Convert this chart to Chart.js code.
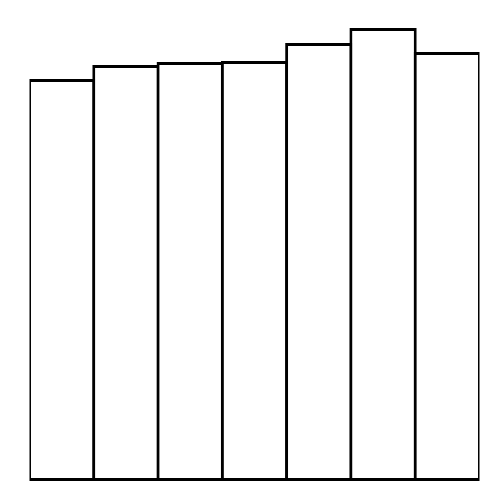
<!DOCTYPE html>
<html>
<head>
<meta charset="utf-8">
<script src="https://cdn.jsdelivr.net/npm/chart.js@4/dist/chart.umd.min.js"></script>
<style>
html,body{margin:0;padding:0;background:#fff;}
canvas{display:block;}
</style>
</head>
<body>
<canvas id="c" width="500" height="500"></canvas>
<script>
const categories = ["A", "B", "C", "D", "E", "F", "G"];
const values = [402, 416, 419, 420, 438, 453, 429];
const yMax = 453;

new Chart(document.getElementById("c"), {
  type: "bar",
  data: {
    labels: categories,
    datasets: [{
      data: values,
      backgroundColor: "#ffffff",
      borderColor: "#000000",
      borderWidth: 3,
      borderSkipped: false,
      barPercentage: 1.0467,
      categoryPercentage: 1
    }]
  },
  options: {
    responsive: false,
    animation: false,
    layout: { padding: { left: 29.5, right: 20.5, top: 28, bottom: 19 } },
    plugins: { legend: { display: false }, tooltip: { enabled: false } },
    scales: {
      x: { display: false, grid: { display: false } },
      y: { display: false, min: 0, max: yMax, grid: { display: false } }
    }
  }
});
</script>
</body>
</html>
